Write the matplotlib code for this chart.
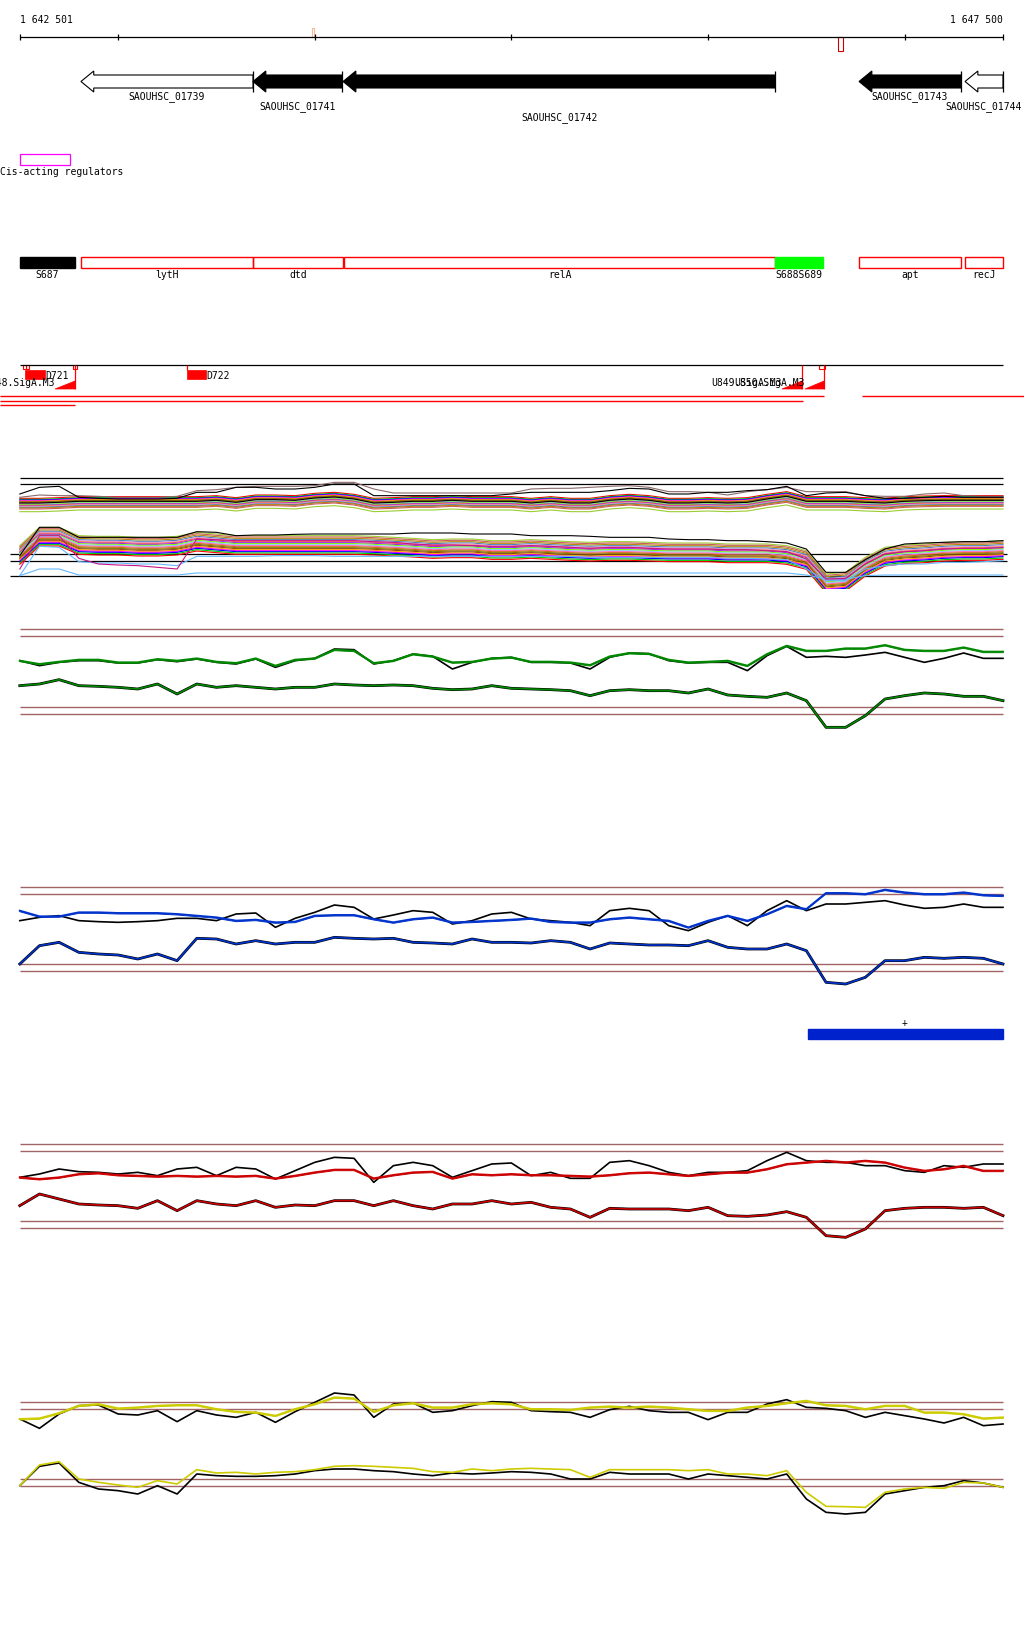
import numpy as np
import matplotlib
matplotlib.use("Agg")
import matplotlib.pyplot as plt
from matplotlib.patches import Rectangle, Polygon

# window shown by the browser
start_bp, end_bp = 1642501, 1647500
ruler_ticks = [1643000, 1644000, 1645000, 1646000, 1647000]
pos = np.arange(1642500, 1647501, 100)   # sample grid of the signal tracks

# annotated genes (all on minus strand)
genes = ["SAOUHSC_01739", "SAOUHSC_01741", "SAOUHSC_01742", "SAOUHSC_01743", "SAOUHSC_01744"]
gene_start = [1642811, 1643686, 1644144, 1646768, 1647307]
gene_end = [1643686, 1644139, 1646341, 1647286, 1647500]
gene_fill = ["white", "black", "black", "black", "white"]
gene_label_row = [0, 1, 2, 0, 1]

# feature row
feats = ["S687", "lytH", "dtd", "relA", "S688S689", "apt", "recJ"]
feat_start = [1642501, 1642811, 1643686, 1644149, 1646341, 1646768, 1647307]
feat_end = [1642781, 1643686, 1644144, 1646341, 1646585, 1647286, 1647500]
feat_fill = ["black", "none", "none", "none", "#00FF00", "none", "none"]

# promoters / sRNAs
srna = ["D721", "D722"]
srna_start = [1642526, 1643350]
srna_end = [1642628, 1643447]
prom = ["U848.SigA.M3", "U849.SigA.M3", "U850.SigA.M3"]
prom_start = [1642679, 1646376, 1646493]
prom_end = [1642781, 1646478, 1646590]

# multi-condition tiling profiles (upper = + strand, lower = - strand)
up_base = [100, 100, 98, 95, 95, 95, 95, 95, 95, 95,
           92, 98, 90, 90, 92, 85, 82, 88, 100, 98,
           95, 95, 92, 95, 95, 95, 100, 95, 100, 100,
           92, 88, 92, 100, 100, 98, 100, 98, 88, 80,
           95, 95, 95, 98, 100, 95, 93, 92, 92, 92, 92]
up_top = [75, 55, 52, 85, 88, 90, 90, 90, 88, 70,
          70, 55, 55, 60, 60, 55, 45, 45, 80, 80,
          80, 80, 80, 80, 80, 75, 70, 70, 70, 70,
          65, 58, 60, 75, 75, 70, 70, 65, 62, 52,
          80, 72, 70, 80, 88, 88, 85, 82, 85, 85, 85]
up_top2 = [85, 78, 80, 80, 82, 85, 85, 85, 82, 65,
           62, 55, 52, 52, 52, 50, 40, 40, 60, 72,
           72, 72, 72, 72, 72, 72, 60, 58, 58, 55,
           52, 50, 55, 68, 68, 70, 78, 68, 62, 55,
           68, 68, 68, 80, 82, 82, 75, 72, 80, 82, 82]
lo_base = [240, 185, 185, 210, 212, 212, 215, 215, 212, 200,
           205, 210, 210, 210, 210, 210, 210, 210, 212, 215,
           218, 222, 220, 220, 225, 225, 222, 225, 228, 230,
           228, 228, 230, 232, 232, 232, 235, 235, 235, 240,
           255, 325, 320, 275, 245, 238, 235, 230, 228, 228, 225]
lo_top = [260, 175, 175, 205, 205, 205, 205, 205, 205, 188,
          190, 200, 198, 198, 196, 195, 195, 195, 195, 195,
          192, 192, 192, 195, 195, 195, 200, 200, 200, 202,
          205, 205, 205, 210, 212, 212, 215, 215, 218, 222,
          240, 310, 310, 272, 240, 225, 222, 220, 218, 218, 215]
lo_sky = [320, 232, 235, 278, 282, 282, 285, 285, 290, 262,
          262, 262, 262, 260, 260, 260, 262, 262, 262, 262,
          262, 262, 262, 262, 262, 262, 262, 262, 262, 265,
          265, 265, 265, 265, 265, 265, 268, 268, 270, 272,
          300, 335, 335, 300, 290, 285, 285, 280, 280, 278, 275]
lo_sky2 = [320, 300, 300, 318, 318, 318, 318, 318, 318, 312,
           312, 312, 312, 312, 312, 312, 312, 312, 312, 312,
           312, 312, 312, 312, 312, 312, 312, 312, 312, 312,
           312, 312, 312, 312, 312, 312, 312, 312, 312, 312,
           318, 330, 330, 320, 318, 318, 318, 318, 318, 318, 318]
lo_magenta = [300, 200, 200, 268, 285, 288, 290, 295, 300, 210,
              212, 215, 215, 215, 215, 215, 215, 215, 218, 220,
              225, 228, 228, 230, 232, 232, 230, 232, 235, 238,
              235, 235, 238, 240, 240, 240, 242, 242, 245, 248,
              270, 330, 328, 285, 255, 248, 245, 240, 238, 238, 236]
band_colors = ["#FF0000", "#00CD00", "#0000FF", "#FF00FF", "#FFA500", "#8B4513",
               "#808000", "#D2691E", "#FF69B4", "#87CEFA", "#7CFC00", "#A020F0",
               "#FF6347", "#DDA0DD", "#4682B4", "#B8860B", "#CD5C5C", "#9ACD32"]
up_offsets = [-12, -9, -7, -5, -3, -1, 0, 2, 4, 5, 7, 9, 11, 13, 15, 17, 20, 28]
lo_offsets = [-10, -6, -2, 2, 5, 8, 11, 14, 17, 20, 23, 26, 29, 32, 35, 38, 42, 46]

# single-condition tracks
green_up = [125, 135, 128, 122, 122, 130, 130, 120, 125, 118,
            128, 132, 118, 140, 122, 118, 92, 95, 132, 125,
            105, 112, 130, 128, 118, 115, 128, 128, 130, 138,
            112, 102, 104, 122, 130, 128, 125, 140, 105, 80,
            95, 95, 88, 88, 78, 92, 95, 95, 85, 98, 98]
green_up_k = [125, 140, 130, 125, 125, 132, 132, 122, 128, 120,
              130, 135, 120, 145, 125, 118, 90, 92, 135, 125,
              105, 112, 150, 130, 118, 115, 130, 130, 132, 150,
              115, 102, 104, 125, 132, 130, 130, 155, 110, 82,
              115, 112, 115, 108, 100, 115, 130, 118, 102, 118, 118]
green_lo = [200, 195, 182, 200, 202, 205, 210, 195, 225, 195,
            205, 200, 205, 210, 205, 205, 195, 198, 200, 198,
            200, 208, 212, 210, 200, 208, 210, 212, 215, 230,
            215, 212, 215, 215, 222, 210, 228, 232, 235, 222,
            245, 325, 325, 290, 240, 230, 222, 225, 232, 232, 245]
blue_up = [95, 112, 112, 100, 100, 102, 102, 102, 105, 110,
           115, 125, 122, 130, 128, 110, 108, 108, 120, 130,
           120, 115, 130, 128, 125, 122, 118, 128, 130, 130,
           120, 115, 120, 125, 145, 125, 110, 125, 105, 80,
           90, 42, 42, 45, 32, 40, 45, 45, 40, 48, 50]
blue_up_k = [125, 115, 110, 125, 128, 130, 128, 125, 118, 118,
             125, 105, 102, 145, 118, 100, 78, 85, 120, 108,
             95, 100, 135, 125, 105, 100, 120, 125, 130, 140,
             95, 88, 95, 140, 155, 130, 110, 140, 95, 65,
             95, 75, 75, 70, 65, 78, 88, 85, 75, 85, 85]
blue_lo = [255, 200, 190, 220, 225, 228, 240, 225, 245, 178,
           180, 195, 185, 195, 190, 190, 175, 178, 180, 178,
           190, 192, 195, 180, 190, 190, 192, 185, 190, 210,
           192, 195, 198, 198, 200, 185, 205, 210, 210, 195,
           215, 310, 315, 295, 245, 245, 235, 238, 235, 238, 255]
red_up = [145, 150, 145, 135, 132, 138, 140, 142, 140, 142,
          140, 142, 140, 148, 140, 130, 122, 122, 148, 138,
          130, 128, 148, 135, 138, 135, 138, 138, 140, 142,
          138, 132, 130, 135, 140, 135, 130, 130, 120, 105,
          100, 95, 100, 95, 100, 115, 125, 120, 110, 125, 125]
red_up_k = [145, 135, 120, 128, 130, 135, 130, 140, 120, 115,
            140, 115, 120, 150, 125, 100, 85, 88, 160, 110,
            100, 110, 145, 125, 105, 102, 140, 130, 148, 148,
            100, 95, 110, 130, 140, 130, 130, 125, 95, 70,
            95, 100, 100, 110, 110, 125, 130, 110, 115, 105, 105]
red_lo = [230, 195, 210, 225, 228, 230, 238, 215, 245, 215,
          225, 230, 215, 235, 228, 230, 215, 215, 230, 215,
          230, 240, 225, 225, 215, 225, 220, 235, 240, 265,
          238, 240, 240, 240, 245, 235, 260, 262, 258, 248,
          265, 320, 325, 300, 245, 238, 235, 235, 238, 235, 260]
yel_up = [120, 118, 102, 80, 75, 88, 85, 80, 78, 78,
          90, 98, 100, 110, 90, 75, 55, 58, 98, 78,
          72, 85, 85, 75, 72, 75, 90, 90, 92, 85,
          82, 85, 82, 85, 90, 95, 95, 85, 80, 72,
          65, 78, 80, 90, 80, 80, 100, 100, 105, 118, 115]
yel_up_k = [120, 148, 105, 80, 78, 105, 108, 95, 128, 95,
            108, 115, 100, 130, 98, 70, 42, 48, 115, 75,
            72, 100, 95, 80, 68, 70, 95, 98, 100, 115,
            92, 82, 95, 100, 100, 122, 100, 100, 75, 62,
            85, 88, 95, 115, 100, 110, 120, 132, 115, 140, 135]
yel_lo = [320, 258, 248, 300, 310, 318, 325, 305, 315, 272,
          282, 280, 285, 280, 278, 272, 262, 260, 262, 265,
          268, 278, 280, 270, 275, 270, 268, 270, 272, 295,
          272, 272, 272, 272, 275, 272, 285, 285, 290, 275,
          340, 382, 383, 385, 340, 330, 325, 328, 310, 312, 325]
yel_lo_k = [320, 262, 252, 310, 330, 335, 345, 320, 345, 285,
            290, 292, 292, 290, 285, 275, 270, 270, 275, 278,
            285, 290, 282, 285, 282, 278, 280, 285, 300, 300,
            280, 285, 285, 285, 300, 285, 290, 295, 300, 285,
            360, 400, 405, 400, 345, 335, 325, 320, 305, 312, 325]

W, H = 1024, 1640
fig = plt.figure(figsize=(W / 100, H / 100), dpi=100)
ax = fig.add_axes([0, 0, 1, 1])
bp_per_px = (end_bp - start_bp) / (1003 - 20)
x_lo = start_bp - 20 * bp_per_px
x_hi = start_bp + (W - 20) * bp_per_px
ax.set_xlim(x_lo, x_hi)
ax.set_ylim(H, 0)
ax.axis("off")

mono = dict(family="DejaVu Sans Mono", fontsize=7, color="black")

# ruler
ax.hlines(38, start_bp, end_bp, color="black", lw=0.9)
ax.vlines([start_bp] + ruler_ticks + [end_bp], 35, 41, color="black", lw=0.9)
ax.text(start_bp, 20, "1 642 501", ha="left", va="center", **mono)
ax.text(end_bp, 20, "1 647 500", ha="right", va="center", **mono)
ax.add_patch(Rectangle((1643986, 29), 10, 9, fill=False, ec="#F4B89A", lw=0.8))
ax.add_patch(Rectangle((1646661, 38), 25, 14, fill=False, ec="#CC0000", lw=0.8))

# genes
head = 65
for name, s, e, fc, row in zip(genes, gene_start, gene_end, gene_fill, gene_label_row):
    verts = [(s, 82.5), (s + head, 72), (s + head, 76), (e, 76), (e, 89),
             (s + head, 89), (s + head, 93)]
    ax.add_patch(Polygon(verts, closed=True, fc=fc, ec="black", lw=0.8))
    ax.vlines(e, 72, 93, color="black", lw=0.9)
    ax.text((s + e) / 2, [97, 107, 118][row], name, ha="center", va="center", **mono)

# cis-acting regulators
ax.add_patch(Rectangle((1642501, 155), 254, 11, fill=False, ec="#FF00FF", lw=0.9))
ax.text(x_lo, 172, "Cis-acting regulators", ha="left", va="center", **mono)

# feature row
for name, s, e, fc in zip(feats, feat_start, feat_end, feat_fill):
    ec = "red" if fc == "none" else fc
    ax.add_patch(Rectangle((s, 258), e - s, 11, fc=fc, ec=ec, lw=1))
    ax.text((s + e) / 2, 275, name, ha="center", va="center", **mono)

# promoters and sRNAs
ax.hlines(366, start_bp, end_bp, color="black", lw=0.9)
for name, s, e in zip(srna, srna_start, srna_end):
    ax.add_patch(Rectangle((s, 371), e - s, 9, fc="red", ec="red", lw=0.5))
    ax.text(e, 376, name, ha="left", va="center", **mono)
ax.vlines(srna_start[1], 366, 371, color="red", lw=0.9)
for name, s, e in zip(prom, prom_start, prom_end):
    ax.add_patch(Polygon([(s, 390), (e, 382), (e, 390)], closed=True, fc="red", ec="red", lw=0.5))
    ax.vlines(e, 366, 390, color="red", lw=0.9)
    ax.text(s, 383, name, ha="right", va="center", **mono)
for s, w in [(1642516, 14), (1642534, 13), (1642771, 20), (1646564, 31)]:
    ax.add_patch(Rectangle((s, 366), w, 4, fill=False, ec="red", lw=0.8))
ax.hlines(397, x_lo, 1646590, color="red", lw=1)
ax.hlines(397, 1646783, x_hi, color="red", lw=1)
ax.hlines(402, x_lo, 1646483, color="red", lw=1)
ax.hlines(406, x_lo, 1642781, color="red", lw=1)


def track_axes(top, height, units):
    a = fig.add_axes([0, 1 - (top + height) / H, 1, height / H])
    a.set_xlim(x_lo, x_hi)
    a.set_ylim(units, 0)
    a.axis("off")
    a.patch.set_alpha(0)
    return a


# multi-condition spaghetti track
sp = track_axes(470, 120, 360)
for y in [27, 45]:
    sp.hlines(y, start_bp, end_bp, color="black", lw=0.9)
for y in [255, 277, 321]:
    sp.hlines(y, x_lo + 10 * bp_per_px, end_bp + 4 * bp_per_px, color="black", lw=0.9)
up_base = np.array(up_base)
lo_base = np.array(lo_base)
for c, off in zip(band_colors, up_offsets):
    sp.plot(pos, up_base + off, color=c, lw=0.8)
for c, off in zip(band_colors[::-1], lo_offsets):
    sp.plot(pos, lo_base + off, color=c, lw=0.8)
sp.plot(pos, up_top2, color="#8B6969", lw=0.8)
sp.plot(pos, up_top, color="black", lw=0.8)
sp.plot(pos, up_base + 2, color="black", lw=0.8)
sp.plot(pos, lo_top, color="black", lw=0.8)
sp.plot(pos, lo_sky, color="#63B8FF", lw=0.8)
sp.plot(pos, lo_sky2, color="#63B8FF", lw=0.8)
sp.plot(pos, lo_magenta, color="#C71585", lw=0.8)

ref_col = "#A06464"


def signal_track(top, height, units, refs, col, up, up_k, lo, lo_k=None):
    a = track_axes(top, height, units)
    for y in refs:
        a.hlines(y, start_bp, end_bp, color=ref_col, lw=1)
    a.plot(pos, up_k, color="black", lw=1.2)
    a.plot(pos, up, color=col, lw=1.4)
    a.plot(pos, np.array(up) + 3, color=col, lw=0.7)
    if lo_k is None:
        a.plot(pos, lo, color="black", lw=2.0)
    else:
        a.plot(pos, lo_k, color="black", lw=1.2)
    a.plot(pos, lo, color=col, lw=1.2)
    return a


signal_track(620, 120, 360, [31, 52, 265, 286], "#008800", green_up, green_up_k, green_lo)
signal_track(880, 160, 480, [25, 46, 256, 277], "#0033CC", blue_up, blue_up_k, blue_lo)
signal_track(1130, 110, 330, [46, 67, 277, 298], "#CC0000", red_up, red_up_k, red_lo)
signal_track(1380, 150, 450, [70, 91, 300, 322], "#CCCC00", yel_up, yel_up_k, yel_lo, yel_lo_k)

# segment bar under the blue track
ax.add_patch(Rectangle((1646508, 1030), end_bp - 1646508, 10, fc="#0022CC", ec="#0022CC"))
ax.text(1646997, 1023, "+", ha="center", va="center", **mono)

fig.savefig("out.png", dpi=100)
